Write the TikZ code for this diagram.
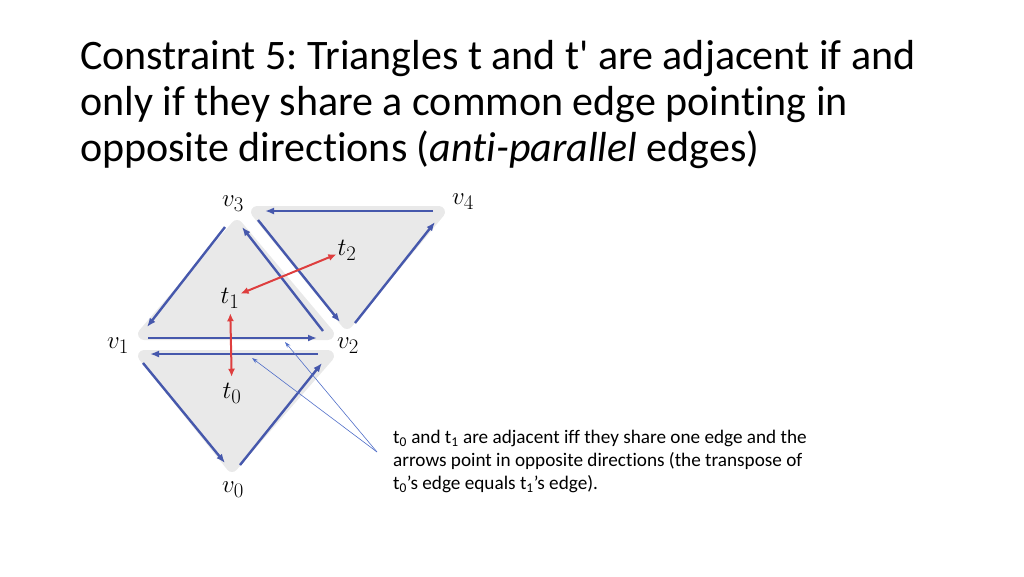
\documentclass[tikz,border=0pt]{standalone}
\usepackage{fontspec}
\setmainfont{Carlito}[Ligatures={NoCommon}]
\usetikzlibrary{arrows.meta}
\DeclareMathSizes{27}{27}{21}{16}
\frenchspacing
\definecolor{edgeblue}{RGB}{70,88,172}
\definecolor{tnred}{RGB}{222,62,62}
\definecolor{trigray}{RGB}{233,233,233}
\definecolor{noteblue}{RGB}{80,110,200}

\begin{document}
\begin{tikzpicture}[x=1pt,y=-1pt,
    tri/.style={fill=trigray,draw=trigray,line width=12pt,line join=round},
    edge/.style={edgeblue,line width=2.4pt,-{Latex[length=9pt,width=7pt]}},
    adj/.style={tnred,line width=2pt,{Latex[length=8pt,width=7pt]}-{Latex[length=8pt,width=7pt]}},
    lbl/.style={font=\fontsize{27}{27}\selectfont,inner sep=1pt},
    pointer/.style={noteblue,line width=0.6pt,-{Stealth[length=6pt,width=4pt]}}]
  \useasboundingbox (0,0) rectangle (1024,576);

  % title
  \node[anchor=north west,inner sep=0pt,align=left,font=\fontsize{42}{46}\selectfont] (title) at (80,40)
    {Constraint 5: Triangles t and t\textquotesingle{} are adjacent if and\\
     only if they share a common edge pointing in\\
     opposite directions (\textit{anti-parallel} edges)};

  % grey triangles
  \filldraw[tri] (237,226) -- (144,334) -- (328,334) -- cycle;
  \filldraw[tri] (144,356) -- (328,356) -- (232,466) -- cycle;
  \filldraw[tri] (257,212) -- (439,212) -- (347,323) -- cycle;

  % t1
  \draw[edge] (225,227) -- (147,327);
  \draw[edge] (148,338) -- (317,338);
  \draw[edge] (323,331) -- (242,227);
  % t0
  \draw[edge] (318,354) -- (150,354);
  \draw[edge] (143,363) -- (225,463);
  \draw[edge] (240,465) -- (322,363);
  % t2
  \draw[edge] (433,211) -- (265,211);
  \draw[edge] (258,220) -- (340,322);
  \draw[edge] (355,323) -- (435,222);

  % vertex labels
  \node[lbl] (v3) at (233,204) {$v_3$};
  \node[lbl] (v4) at (463,202) {$v_4$};
  \node[lbl] (v1) at (118,346) {$v_1$};
  \node[lbl] (v2) at (348,346) {$v_2$};
  \node[lbl] (v0) at (233,490) {$v_0$};

  % triangle labels
  \node[lbl] (t2) at (347,250) {$t_2$};
  \node[lbl] (t1) at (230,298) {$t_1$};
  \node[lbl] (t0) at (232,393) {$t_0$};
  \draw[adj] (t1) -- (t2);
  \draw[adj,shorten <=4pt,shorten >=5pt] (t1) -- (t0);

  % note
  \node[anchor=north west,inner sep=0pt,align=left,font=\fontsize{19.2}{23}\selectfont] (note) at (393,430)
    {t\textsubscript{0} and t\textsubscript{1} are adjacent iff they share one edge and the\\
     arrows point in opposite directions (the transpose of\\
     t\textsubscript{0}’s edge equals t\textsubscript{1}’s edge).};
  \coordinate (fork) at (377,452);
  \coordinate (tip1) at (285,342);
  \coordinate (tip0) at (252,358);
  \draw[pointer] (fork) -- (tip1);
  \draw[pointer] (fork) -- (tip0);
\end{tikzpicture}
\end{document}
